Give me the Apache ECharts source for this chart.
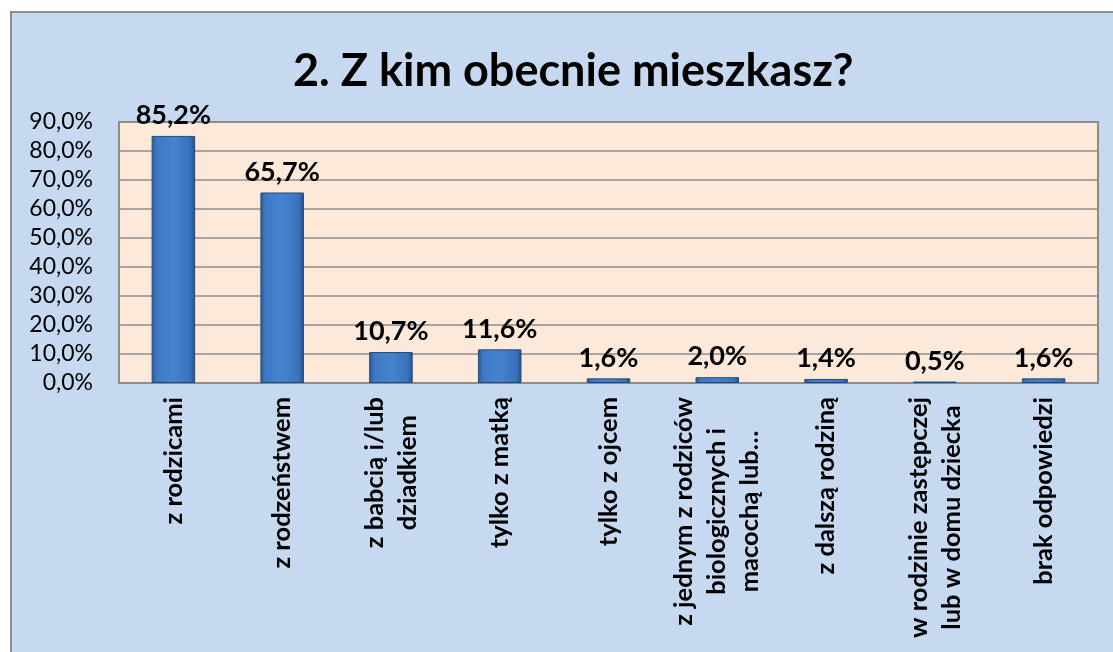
<!DOCTYPE html>
<html>
<head>
<meta charset="utf-8">
<script src="https://cdn.jsdelivr.net/npm/echarts@6/dist/echarts.min.js"></script>
<style>
  html, body { margin: 0; padding: 0; background: #fff; }
  #chart { width: 1113px; height: 652px; }
</style>
</head>
<body>
<div id="chart"></div>
<script>
// Data
const categories = [
    'z rodzicami',
    'z rodzeństwem',
    'z babcią i/lub\ndziadkiem',
    'tylko z matką',
    'tylko z ojcem',
    'z jednym z rodziców\nbiologicznych i\nmacochą lub…',
    'z dalszą rodziną',
    'w rodzinie zastępczej\nlub w domu dziecka',
    'brak odpowiedzi'
];
const percents = [85.2, 65.7, 10.7, 11.6, 1.6, 2.0, 1.4, 0.5, 1.6];
const yTicks = { min: 0, max: 90, step: 10 };

const FONT = 'Lato';

function pl(v) {
    return v.toFixed(1).replace('.', ',') + '%';
}

const chart = echarts.init(document.getElementById('chart'));

const option = {
    backgroundColor: '#ffffff',
    animation: false,
    graphic: [
        {
            type: 'rect',
            z: -10,
            shape: { x: 11, y: 12, width: 1110, height: 650 },
            style: { fill: '#c6d9f1', stroke: '#8c8c8c', lineWidth: 2 }
        }
    ],
    title: {
        text: '2. Z kim obecnie mieszkasz?',
        left: 288,
        top: 44,
        textStyle: { fontFamily: FONT, fontWeight: 'bold', fontSize: 45, color: '#000' }
    },
    grid: {
        left: 119, right: 15, top: 122, bottom: 269,
        show: true,
        backgroundColor: '#fde9d9',
        borderColor: '#8c8c8c',
        borderWidth: 2
    },
    xAxis: {
        type: 'category',
        data: categories,
        axisLine: { lineStyle: { color: '#8c8c8c', width: 2 } },
        axisTick: { show: false },
        axisLabel: {
            interval: 0,
            rotate: 90,
            margin: 14,
            formatter: (v) => v.split('\n').map(s => '{c|' + s + '}').join('\n'),
            rich: {
                c: {
                    align: 'center',
                    fontFamily: FONT, fontWeight: 'bold', fontSize: 25.5,
                    lineHeight: 33, color: '#000'
                }
            }
        }
    },
    yAxis: {
        type: 'value',
        min: yTicks.min,
        max: yTicks.max,
        interval: yTicks.step,
        axisLine: { show: false },
        axisTick: { show: false },
        splitLine: { lineStyle: { color: '#8c8c8c', width: 1.5 } },
        axisLabel: {
            margin: 26,
            padding: [7, 0, 0, 0],
            formatter: (v) => pl(v),
            fontFamily: FONT, fontSize: 23, color: '#000'
        }
    },
    series: [
        {
            type: 'bar',
            data: percents,
            barWidth: '40%',
            itemStyle: {
                color: new echarts.graphic.LinearGradient(0, 0, 1, 0, [
                    { offset: 0, color: '#2c5a97' },
                    { offset: 0.12, color: '#3d78c4' },
                    { offset: 0.5, color: '#4683cf' },
                    { offset: 0.88, color: '#3a72bb' },
                    { offset: 1, color: '#26508a' }
                ]),
                borderColor: '#25497a',
                borderWidth: 1
            },
            label: {
                show: true,
                position: 'top',
                distance: 7,
                formatter: (p) => pl(p.value),
                fontFamily: FONT, fontWeight: 'bold', fontSize: 27, color: '#000'
            }
        }
    ]
};

chart.setOption(option);
</script>
</body>
</html>
